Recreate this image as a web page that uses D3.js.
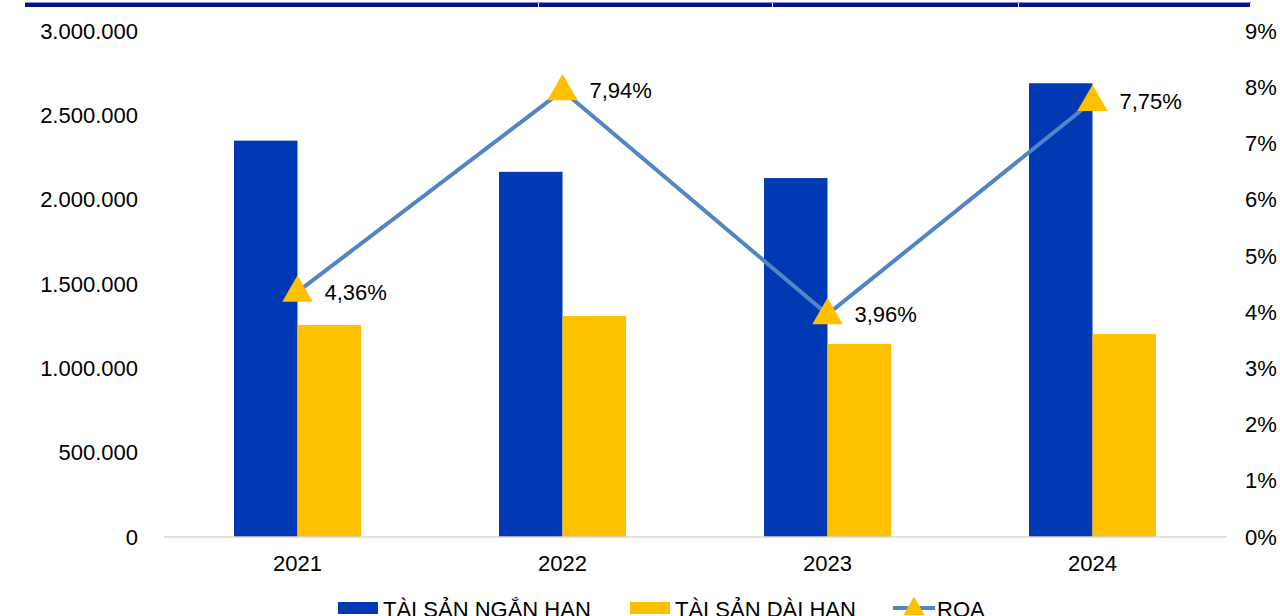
<!DOCTYPE html>
<html>
<head>
<meta charset="utf-8">
<script src="https://cdn.jsdelivr.net/npm/d3@7"></script>
<style>
  body { margin: 0; background: #fff; }
  svg { display: block; font-family: "Liberation Sans", Arial, sans-serif; }
</style>
</head>
<body>
<script>
// data
const years = ["2021", "2022", "2023", "2024"];
const shortAssets = [2350000, 2165000, 2128000, 2690000];   // TÀI SẢN NGẮN HẠN
const longAssets = [1257000, 1310000, 1145000, 1203000];    // TÀI SẢN DÀI HẠN
const roa = [4.36, 7.94, 3.96, 7.75];                       // %
const leftTicks = [0, 500000, 1000000, 1500000, 2000000, 2500000, 3000000];
const rightTicks = [0, 1, 2, 3, 4, 5, 6, 7, 8, 9];
const legendNames = ["TÀI SẢN NGẮN HẠN", "TÀI SẢN DÀI HẠN", "ROA"];

const W = 1280, H = 616;
const blue = "#0039B3", yellow = "#FFC000", lineCol = "#5185C3";

const svg = d3.select("body").append("svg")
    .attr("width", W)
    .attr("height", H);

// header strip at the very top
const strip = [25, 539, 773, 1019, 1251];
svg.append("rect").attr("x", 25).attr("y", 2).attr("width", 1226).attr("height", 1).attr("fill", "#8a90c8");
svg.selectAll("rect.strip")
    .data(d3.pairs(strip))
    .enter().append("rect")
    .attr("class", "strip")
    .attr("x", d => d[0])
    .attr("y", 3)
    .attr("width", d => d[1] - d[0] - 1)
    .attr("height", 4)
    .attr("fill", "#0A0F8A");

const x = d3.scaleBand().domain(years).range([165, 1225]).padding(0);
const x1 = d3.scaleBand().domain(["s", "l"]).range([0, x.bandwidth()]).paddingInner(0).paddingOuter(1.087);
const y = d3.scaleLinear().domain([0, 3000000]).range([537, 31]);
const y2 = d3.scaleLinear().domain([0, 9]).range([537, 31]);

const fmt = d3.formatLocale({ decimal: ",", thousands: ".", grouping: [3], currency: ["", ""] });
const leftFmt = fmt.format(",.0f");

// left axis
svg.append("g")
    .selectAll("text")
    .data(leftTicks)
    .enter().append("text")
    .attr("x", 138)
    .attr("y", d => y(d))
    .attr("dy", "0.35em")
    .attr("text-anchor", "end")
    .attr("font-size", 22)
    .text(d => leftFmt(d));

// right axis
svg.append("g")
    .selectAll("text")
    .data(rightTicks)
    .enter().append("text")
    .attr("x", 1245)
    .attr("y", d => y2(d))
    .attr("dy", "0.35em")
    .attr("font-size", 22)
    .text(d => d + "%");

// bars
const g = svg.append("g");
years.forEach(function (yr, i) {
    g.append("rect")
        .attr("x", x(yr) + x1("s"))
        .attr("y", y(shortAssets[i]))
        .attr("width", x1.bandwidth())
        .attr("height", y(0) - y(shortAssets[i]))
        .attr("fill", blue);
    g.append("rect")
        .attr("x", x(yr) + x1("l"))
        .attr("y", y(longAssets[i]))
        .attr("width", x1.bandwidth())
        .attr("height", y(0) - y(longAssets[i]))
        .attr("fill", yellow);
});

// baseline
svg.append("line")
    .attr("x1", 164).attr("x2", 1227)
    .attr("y1", y(0)).attr("y2", y(0))
    .attr("stroke", "#D9D9D9")
    .attr("stroke-width", 1.5);

// x labels
svg.append("g")
    .selectAll("text")
    .data(years)
    .enter().append("text")
    .attr("x", d => x(d) + x.bandwidth() / 2)
    .attr("y", 571)
    .attr("text-anchor", "middle")
    .attr("font-size", 22)
    .text(d => d);

// ROA line
const cx = d => x(d) + x.bandwidth() / 2;
const line = d3.line()
    .x((d, i) => cx(years[i]))
    .y(d => y2(d));
svg.append("path")
    .datum(roa)
    .attr("d", line)
    .attr("fill", "none")
    .attr("stroke", lineCol)
    .attr("stroke-width", 4);

const tri = d3.symbol().type(d3.symbolTriangle).size(400);
svg.append("g")
    .selectAll("path")
    .data(roa)
    .enter().append("path")
    .attr("d", tri)
    .attr("transform", (d, i) => "translate(" + cx(years[i]) + "," + (y2(d) + 1) + ")")
    .attr("fill", yellow);

svg.append("g")
    .selectAll("text")
    .data(roa)
    .enter().append("text")
    .attr("x", (d, i) => cx(years[i]) + 27)
    .attr("y", d => y2(d))
    .attr("dy", "0.35em")
    .attr("font-size", 22)
    .text(d => d.toFixed(2).replace(".", ",") + "%");

// legend (cut at bottom edge, as in the original)
const leg = svg.append("g");
leg.append("rect").attr("x", 338).attr("y", 602).attr("width", 40).attr("height", 12).attr("fill", blue);
leg.append("text").attr("x", 383).attr("y", 617).attr("font-size", 22).text(legendNames[0]);
leg.append("rect").attr("x", 630).attr("y", 602).attr("width", 40).attr("height", 12).attr("fill", yellow);
leg.append("text").attr("x", 675).attr("y", 617).attr("font-size", 22).text(legendNames[1]);
leg.append("line").attr("x1", 893).attr("x2", 935).attr("y1", 608).attr("y2", 608)
    .attr("stroke", lineCol).attr("stroke-width", 4);
leg.append("path").attr("d", d3.symbol().type(d3.symbolTriangle).size(200))
    .attr("transform", "translate(914,609)").attr("fill", yellow);
leg.append("text").attr("x", 937).attr("y", 617).attr("font-size", 22).text(legendNames[2]);
</script>
</body>
</html>
